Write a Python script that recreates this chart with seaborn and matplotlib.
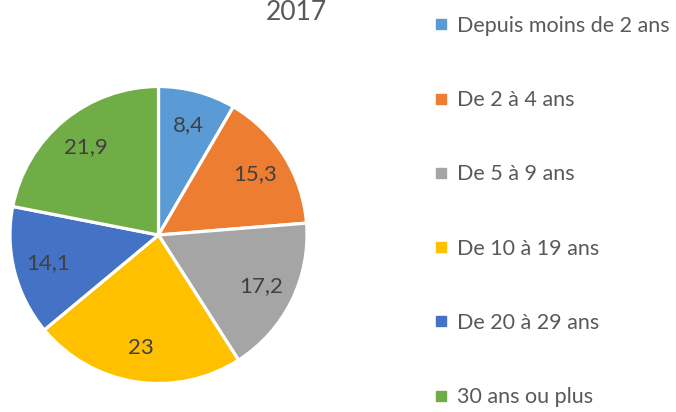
import matplotlib
matplotlib.use("Agg")
import matplotlib.pyplot as plt
from matplotlib.lines import Line2D
import seaborn as sns

# Ancienneté (répartition en %), année 2017
categories = [
    "Depuis moins de 2 ans",
    "De 2 à 4 ans",
    "De 5 à 9 ans",
    "De 10 à 19 ans",
    "De 20 à 29 ans",
    "30 ans ou plus",
]
values = [8.4, 15.3, 17.2, 23, 14.1, 21.9]
value_labels = ["8,4", "15,3", "17,2", "23", "14,1", "21,9"]
title = "2017"

colors = ["#5B9BD5", "#ED7D31", "#A5A5A5", "#FFC000", "#4472C4", "#70AD47"]

sns.set_theme(style="white")
plt.rcParams["font.family"] = ["Lato", "DejaVu Sans"]

W, H = 676, 412
fig = plt.figure(figsize=(W / 100, H / 100), dpi=100)

cx, cy, r = 158.5, 235, 148.5
ax = fig.add_axes([(cx - r) / W, (H - cy - r) / H, 2 * r / W, 2 * r / H])

wedges, texts = ax.pie(
    values,
    colors=colors,
    labels=value_labels,
    labeldistance=0.77,
    startangle=90,
    counterclock=False,
    radius=1,
    wedgeprops=dict(edgecolor="white", linewidth=2.3),
    textprops=dict(fontsize=16, color="#404040"),
)
for t in texts:
    t.set_horizontalalignment("center")
    t.set_verticalalignment("center")
ax.set_xlim(-1, 1)
ax.set_ylim(-1, 1)
ax.axis("off")

fig.text(296 / W, 1 - 12 / H, title, ha="center", va="center",
         fontsize=19, color="#595959")

handles = [
    Line2D([0], [0], marker="s", linestyle="none", markersize=6.5,
           markerfacecolor=c, markeredgecolor=c)
    for c in colors
]
fig.legend(
    handles, categories,
    loc="upper left",
    bbox_to_anchor=(435 / W, 1 - 16 / H),
    frameon=False,
    fontsize=15.5,
    labelcolor="#595959",
    handlelength=0.55,
    handletextpad=0.45,
    labelspacing=2.52,
    borderaxespad=0,
    borderpad=0,
)

fig.savefig("out.png", dpi=100)
